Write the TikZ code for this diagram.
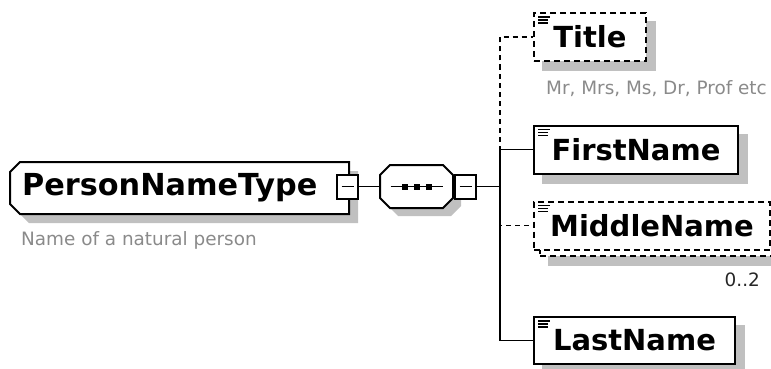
\documentclass[tikz,border=0pt]{standalone}
\usepackage{fontspec}
\setmainfont{DejaVu Sans}
\usetikzlibrary{backgrounds}

\definecolor{shadowgray}{HTML}{C0C0C0}
\definecolor{notegray}{HTML}{8A8A8A}

\tikzset{
  wire/.style={line width=1.8pt},
  optwire/.style={wire, dash pattern=on 5pt off 4pt},
  frame/.style={draw, fill=white, line width=2pt},
  elembox/.style={frame, minimum height=48pt,
    anchor=west, inner sep=0pt, font=\fontsize{29}{35}\bfseries\selectfont,
    path picture={
      \draw[solid, line width=1.4pt]
        ([shift={(4,4)}]path picture bounding box.north west) -- +(12,0)
        ([shift={(4,7)}]path picture bounding box.north west) -- +(10,0)
        ([shift={(4,10)}]path picture bounding box.north west) -- +(10,0);
    }},
  optbox/.style={elembox, dash pattern=on 6pt off 4pt},
  minusbox/.style={frame, minimum width=21pt,
    minimum height=24pt, inner sep=0pt,
    path picture={
      \draw[line width=1.5pt] ([xshift=-6pt]path picture bounding box.center)
        -- ([xshift=6pt]path picture bounding box.center);
    }},
  typearea/.style={anchor=west, minimum width=339pt, minimum height=52pt,
    inner xsep=12pt, inner ysep=0pt, text width=315pt, align=left,
    font=\fontsize{30.3}{36}\bfseries\selectfont},
  note/.style={font=\fontsize{18.4}{22}\selectfont, text=notegray,
    inner sep=0pt, anchor=base west},
}

\begin{document}
\begin{tikzpicture}[x=1pt, y=-1pt]
  \useasboundingbox (0,0) rectangle (771,369);

  % complex type and its sequence
  \node[typearea] (pnt) at (10,188) {PersonNameType};
  \node[minusbox] (pntminus) at (347.5,186.5) {};
  \node[note] (pntnote) at (21,245) {Name of a natural person};

  \node[minimum width=73pt, minimum height=43pt, inner sep=0pt] (seq) at (416.5,186.5) {};
  \draw[wire] ([xshift=-26pt]seq.center) -- ([xshift=26pt]seq.center);
  \foreach \dx in {-12,0,12}
    \fill ([shift={(\dx-3,-3)}]seq.center) rectangle +(6,6);
  \node[minusbox] (seqminus) at (465.5,186.5) {};

  \coordinate (bus) at (500,186.5);

  % child elements
  \node[optbox, minimum width=112pt] (title) at (533,37) {Title};
  \node[note] (titlenote) at (546,94) {Mr, Mrs, Ms, Dr, Prof etc};
  \node[elembox, minimum width=204pt] (first) at (533,149.5) {FirstName};
  \node[optbox, minimum width=236pt] (middleback) at (539,231.5) {};
  \node[optbox, minimum width=236pt] (middle) at (533,225.5) {MiddleName};
  \node[note, text=black!85, anchor=base east] (middleocc) at (760,286) {0..2};
  \node[elembox, minimum width=201pt, minimum height=47pt] (last) at (533,340.5) {LastName};

  % shadows and octagon frames
  \begin{scope}[on background layer]
    \fill[shadowgray, shift={(9,9)}] (20,162) -- (349,162) -- (349,214)
      -- (20,214) -- (10,204) -- (10,172) -- cycle;
    \fill[shadowgray, shift={(8,8)}] (390,165) -- (443,165) -- (453,175)
      -- (453,198) -- (443,208) -- (390,208) -- (380,198) -- (380,175) -- cycle;
    \foreach \n in {title,first,middleback,last}
      \fill[shadowgray] ([shift={(9,9)}]\n.north west) rectangle ([shift={(9,9)}]\n.south east);
    \path[frame] (20,162) -- (349,162) -- (349,214)
      -- (20,214) -- (10,204) -- (10,172) -- cycle;
    \path[frame] (390,165) -- (443,165) -- (453,175)
      -- (453,198) -- (443,208) -- (390,208) -- (380,198) -- (380,175) -- cycle;
  \end{scope}

  % connectors
  \draw[wire] (pntminus.east) -- (seq.west);
  \draw[wire] (seqminus.east) -- (bus);
  \draw[optwire] (bus) |- (title.west);
  \draw[optwire] (bus) |- (middle.west);
  \draw[wire] (bus) |- (first.west);
  \draw[wire] (bus) |- (last.west);
\end{tikzpicture}
\end{document}
